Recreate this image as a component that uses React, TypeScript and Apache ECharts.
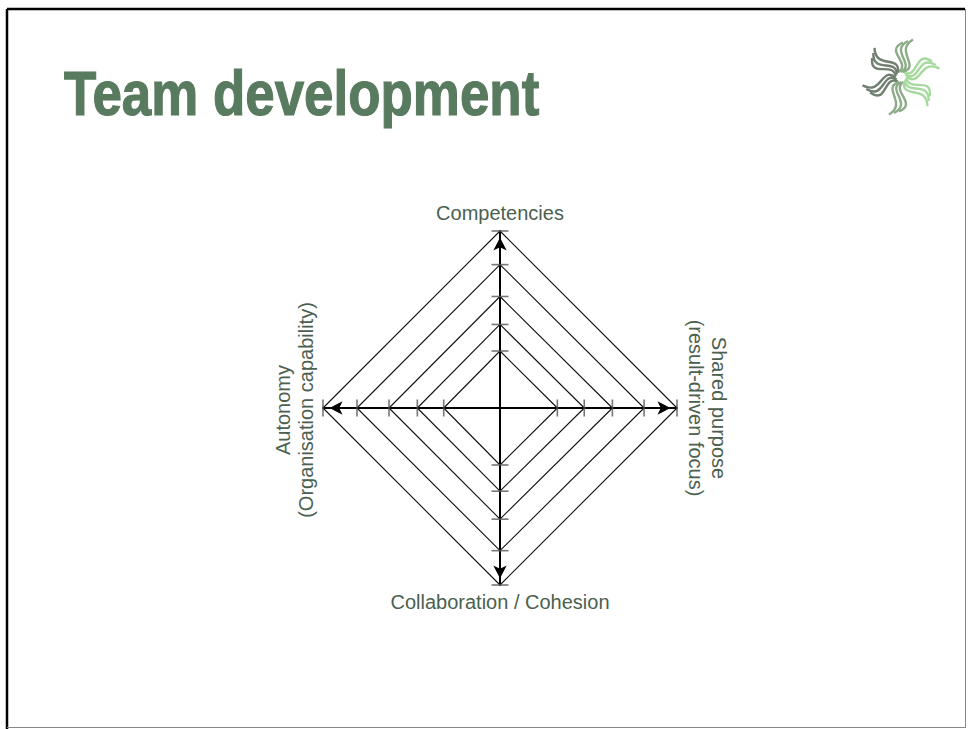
import React, { useEffect, useRef } from "react";
import * as echarts from "echarts";

const TITLE = "Team development";
const LABEL_TOP = "Competencies";
const LABEL_RIGHT = "Shared purpose\n(result-driven focus)";
const LABEL_BOTTOM = "Collaboration / Cohesion";
const LABEL_LEFT = "Autonomy\n(Organisation capability)";

const AXIS_MAX = 10;
// Ring (diamond) values on each of the four axes, inner to outer
const RING_TOP = [3.22, 4.72, 6.3, 8.1, 10];
const RING_RIGHT = [3.24, 4.76, 6.35, 8.14, 10];
const RING_BOTTOM = [3.22, 4.7, 6.28, 8.06, 10];
const RING_LEFT = [3.18, 4.67, 6.27, 8.08, 10];

const LOGO_ARM_ANGLES = [0, 60, 120, 180, 240, 300];
const LOGO_LINE_OFFSETS = [-5, 0, 5];

export default function App() {
  const ref = useRef<HTMLDivElement>(null);

  useEffect(() => {
    const chart = echarts.init(ref.current!, null, { renderer: "svg" });

    const ringSeries = RING_TOP.map((t, i) => ({
      type: "line",
      data: [
        [0, t],
        [RING_RIGHT[i], 0],
        [0, -RING_BOTTOM[i]],
        [-RING_LEFT[i], 0],
        [0, t],
      ],
      symbol: "none",
      silent: true,
      z: 3,
      lineStyle: { color: "#111", width: 1.1 },
    }));

    const tickData: any[] = [];
    RING_TOP.forEach((t, i) => {
      tickData.push({ value: [0, t], symbolSize: [17, 1.6] });
      tickData.push({ value: [0, -RING_BOTTOM[i]], symbolSize: [17, 1.6] });
      tickData.push({ value: [RING_RIGHT[i], 0], symbolSize: [1.6, 17] });
      tickData.push({ value: [-RING_LEFT[i], 0], symbolSize: [1.6, 17] });
    });

    const axisCommon = {
      type: "value",
      min: -AXIS_MAX,
      max: AXIS_MAX,
      axisLine: {
        show: true,
        onZero: true,
        symbol: ["arrow", "arrow"],
        symbolSize: [10, 13],
        symbolOffset: [6.5, -6.5],
        lineStyle: { color: "#000", width: 2 },
      },
      axisTick: { show: false },
      axisLabel: { show: false },
      splitLine: { show: false },
    };

    // logo arms
    const gray = [108, 120, 108];
    const green = [170, 224, 160];
    const logoChildren = LOGO_ARM_ANGLES.map((deg) => {
      const a = (deg * Math.PI) / 180;
      const t = (-Math.sin(a) + 1) / 2;
      const c = gray.map((g, k) => Math.round(g + (green[k] - g) * t));
      const color = `rgb(${c[0]},${c[1]},${c[2]})`;
      return {
        type: "group",
        x: 901,
        y: 77,
        rotation: a,
        children: LOGO_LINE_OFFSETS.map((o) => ({
          type: "bezierCurve",
          shape: {
            x1: o * 0.4,
            y1: -5,
            cpx1: o + 15,
            cpy1: -13 + o * 0.4,
            cpx2: o - 12,
            cpy2: -26,
            x2: o + 7,
            y2: -36 - o * 0.3,
          },
          style: { stroke: color, lineWidth: 2.4, fill: "none" },
        })),
      };
    });

    const labelColor = "#4b604f";
    const labelFont = "20px 'Liberation Sans', Arial, Helvetica, sans-serif";

    chart.setOption({
      animation: false,
      backgroundColor: "#ffffff",
      grid: { left: 323, top: 231, width: 354, height: 354 },
      xAxis: axisCommon,
      yAxis: axisCommon,
      series: [
        ...ringSeries,
        {
          type: "scatter",
          data: tickData,
          symbol: "rect",
          silent: true,
          z: 4,
          itemStyle: { color: "#555" },
        },
      ],
      graphic: [
        {
          type: "line",
          shape: { x1: 7, y1: 9, x2: 965, y2: 9 },
          style: { stroke: "#000", lineWidth: 2.5 },
        },
        {
          type: "line",
          shape: { x1: 7, y1: 9, x2: 7, y2: 729 },
          style: { stroke: "#000", lineWidth: 2.5 },
        },
        {
          type: "line",
          shape: { x1: 965.5, y1: 9, x2: 965.5, y2: 728 },
          style: { stroke: "#888", lineWidth: 1 },
        },
        {
          type: "line",
          shape: { x1: 7, y1: 727.5, x2: 966, y2: 727.5 },
          style: { stroke: "#888", lineWidth: 1 },
        },
        {
          type: "text",
          x: 64,
          y: 93,
          scaleX: 0.84,
          style: {
            text: TITLE,
            font: "bold 63px 'Liberation Sans', Arial, Helvetica, sans-serif",
            fill: "#587a5e",
            stroke: "#587a5e",
            lineWidth: 1.2,
            align: "left",
            verticalAlign: "middle",
          },
        },
        {
          type: "text",
          x: 500,
          y: 213,
          style: { text: LABEL_TOP, font: labelFont, fill: labelColor, align: "center", verticalAlign: "middle" },
        },
        {
          type: "text",
          x: 500,
          y: 602,
          style: { text: LABEL_BOTTOM, font: labelFont, fill: labelColor, align: "center", verticalAlign: "middle" },
        },
        {
          type: "text",
          x: 294,
          y: 410,
          rotation: Math.PI / 2,
          style: {
            text: LABEL_LEFT,
            font: labelFont,
            fill: labelColor,
            align: "center",
            verticalAlign: "middle",
            lineHeight: 23,
          },
        },
        {
          type: "text",
          x: 707,
          y: 408,
          rotation: -Math.PI / 2,
          style: {
            text: LABEL_RIGHT,
            font: labelFont,
            fill: labelColor,
            align: "center",
            verticalAlign: "middle",
            lineHeight: 23,
          },
        },
        ...logoChildren,
      ],
    });

    return () => chart.dispose();
  }, []);

  return (
    <div
      ref={ref}
      style={{ position: "fixed", left: 0, top: 0, width: 969, height: 729 }}
    />
  );
}
